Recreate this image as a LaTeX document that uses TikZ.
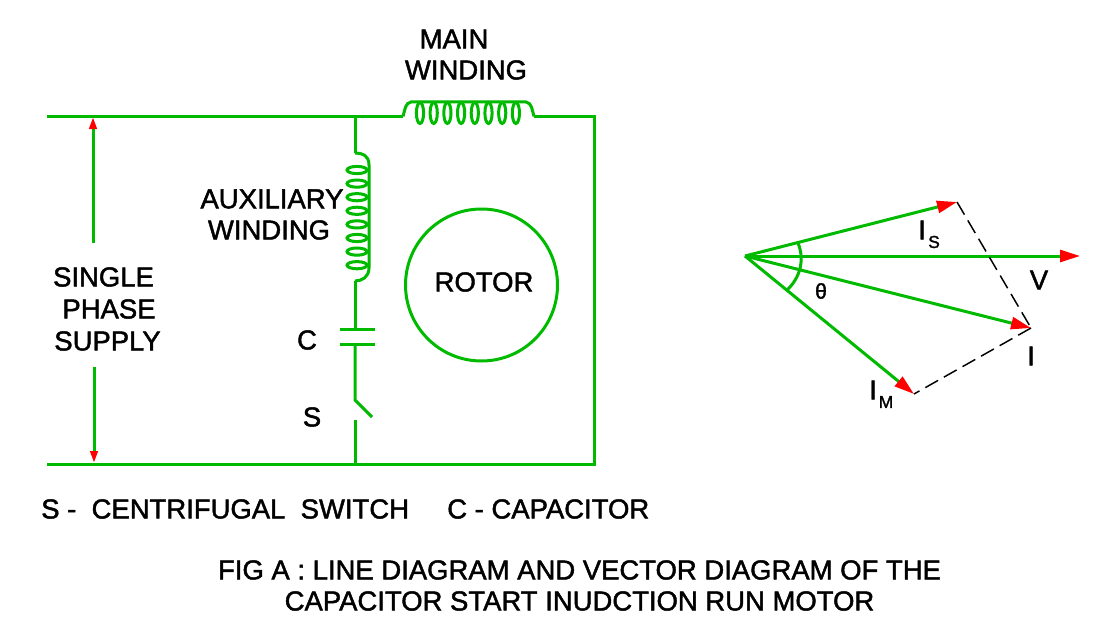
\documentclass[tikz,border=0pt]{standalone}
\usepackage{fontspec}
\setmainfont{Liberation Sans}[FakeBold=1.6]
\usetikzlibrary{arrows.meta}
\definecolor{wire}{RGB}{0,186,0}
\tikzset{
	wireline/.style={draw=wire,line width=2.25pt},
	coilline/.style={draw=wire,line width=2.25pt},
	vectorline/.style={draw=wire,line width=2.25pt,-{Triangle[color=red,fill=red,length=15pt,width=9pt]}},
	supplyline/.style={draw=wire,line width=2.25pt,-{Triangle[color=red,fill=red,length=9pt,width=5.5pt]}},
	dashline/.style={draw=black,line width=1.1pt,dash pattern=on 11pt off 5pt},
	lbl/.style={inner sep=0pt,font=\fontsize{20.6}{20.6}\selectfont},
	sublbl/.style={inner sep=0pt,font=\fontsize{13}{13}\selectfont}
}
\begin{document}
\begin{tikzpicture}[x=.75pt,y=-.75pt]

\useasboundingbox (0,0) rectangle (1107,635);

\coordinate (lt) at (47,116.4);
\coordinate (lb) at (47,464);
\coordinate (jt) at (355,116.4);
\coordinate (jb) at (355,464);
\coordinate (mainin) at (403,116.4);
\coordinate (mainout) at (534,116.4);
\coordinate (rt) at (594,116.4);
\coordinate (rb) at (594,464);
\coordinate (auxin) at (355,153);
\coordinate (auxout) at (355,281);
\coordinate (capa) at (355,329);
\coordinate (capb) at (355,344);
\coordinate (swa) at (355,400);
\coordinate (swb) at (372,417);
\coordinate (swc) at (355,420);

% supply lines
\draw [wireline] (lt) to (mainin);
\draw [wireline] (mainout) to (rt) to (rb) to (lb);
\draw [wireline] (jt) to (auxin);
\draw [wireline] (auxout) to (capa);
\draw [wireline] (capb) to (swa) to (swb);
\draw [wireline] (swc) to (jb);

\coordinate (supa) at (93,243);
\coordinate (supb) at (93,117);
\coordinate (supc) at (94,367);
\coordinate (supd) at (94,463);
\draw [supplyline] (supa) to (supb);
\draw [supplyline] (supc) to (supd);

% main winding
\draw [coilline] (mainin) .. controls (405,110) and (405,103) .. (411,102) -- (526,102) .. controls (532,103) and (532,110) .. (mainout);
\foreach \x in {0,...,7} {
	\pgfmathsetmacro{\j}{420 + 13.7*\x}
	\draw [coilline] (\j,113) ellipse [x radius=3.6,y radius=10.5];
}

% auxiliary winding
\draw [coilline] (auxin) .. controls (362,153) and (369,155) .. (369,165) -- (369,268) .. controls (369,277) and (362,281) .. (auxout);
\foreach \x in {0,...,7} {
	\pgfmathsetmacro{\j}{170 + 13.6*\x}
	\draw [coilline] (357,\j) ellipse [x radius=10,y radius=3.6];
}

% capacitor
\coordinate (pa) at (340,329);
\coordinate (pb) at (375,329);
\coordinate (pc) at (340,344);
\coordinate (pd) at (375,344);
\draw [wireline] (pa) to (pb);
\draw [wireline] (pc) to (pd);

\node [draw=wire,line width=2.25pt,circle,inner sep=0pt,minimum size=114pt] (rotor) at (481.5,285) {};

% vector diagram
\coordinate (o) at (745,256);
\coordinate (is) at (957,202);
\coordinate (v) at (1080,256);
\coordinate (i) at (1031,328);
\coordinate (im) at (914,394);
\draw [vectorline] (o) to (is);
\draw [vectorline] (o) to (v);
\draw [vectorline] (o) to (i);
\draw [vectorline] (o) to (im);
\draw [dashline] (is) to (i);
\draw [dashline] (i) to (im);

\coordinate (ta) at (798,243);
\coordinate (tb) at (787,290);
\draw [coilline] (ta) .. controls (805,260) and (800,278) .. (tb);

% labels
\node [lbl] (lmain) at (454,39) {MAIN};
\node [lbl] (lmainb) at (466,70) {WINDING};
\node [lbl] (laux) at (272,199) {AUXILIARY};
\node [lbl] (lauxb) at (269,230) {WINDING};
\node [lbl] (lsa) at (103.5,277) {SINGLE};
\node [lbl] (lsb) at (109,309) {PHASE};
\node [lbl] (lsc) at (107.5,341) {SUPPLY};
\node [lbl] (lc) at (307,340) {C};
\node [lbl] (ls) at (312,417) {S};
\node [lbl] (lrotor) at (484,282) {ROTOR};
\node [lbl,anchor=west] (lswitch) at (41,509) {S -\ \ CENTRIFUGAL\ \ SWITCH};
\node [lbl,anchor=west] (lcap) at (447,509) {C - CAPACITOR};
\node [lbl] (lfig) at (579.5,570) {FIG A : LINE DIAGRAM AND VECTOR DIAGRAM OF THE};
\node [lbl] (lfigb) at (579.5,601) {CAPACITOR START INUDCTION RUN MOTOR};

\node [lbl] (lis) at (922,230) {I};
\node [sublbl] (liss) at (934,242) {S};
\node [lbl] (lv) at (1039,280) {V};
\node [lbl] (li) at (1031,356) {I};
\node [lbl] (lim) at (873,390) {I};
\node [sublbl] (limm) at (886,402) {M};
\node [sublbl,font=\fontsize{16}{16}\selectfont] (ltheta) at (821,291) {θ};

\end{tikzpicture}
\end{document}
